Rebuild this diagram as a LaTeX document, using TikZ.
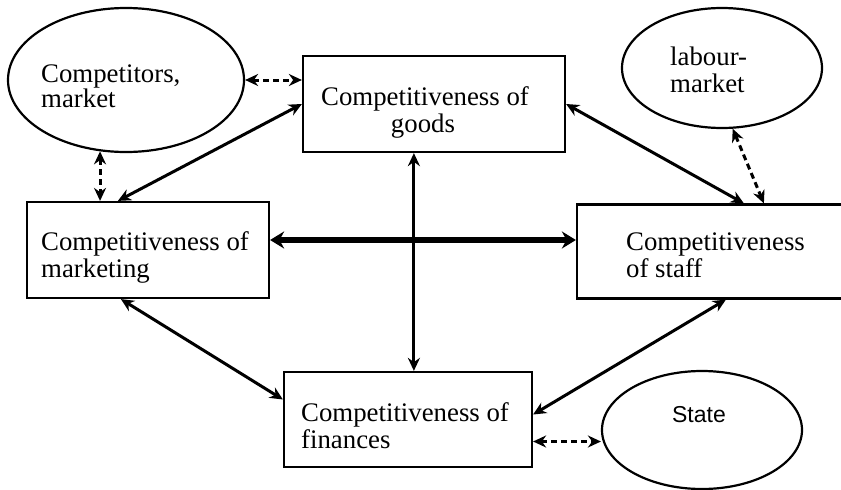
\documentclass[tikz,border=0pt]{standalone}
\usepackage{fontspec}
\setmainfont{Liberation Serif}
\newfontfamily\statefont{Liberation Sans}
\usetikzlibrary{arrows.meta,shapes.geometric,calc}
\begin{document}
\begin{tikzpicture}[x=1pt,y=-1pt,
  box/.style={draw, line width=2.2pt, rectangle, inner sep=0pt},
  oval/.style={draw, line width=2.2pt, ellipse, inner sep=0pt},
  txt/.style={inner sep=0pt, font=\fontsize{26.8}{27}\selectfont},
  link/.style={line width=3pt, {Stealth[length=13pt,width=12pt]}-{Stealth[length=13pt,width=12pt]}},
  dlink/.style={link, dash pattern=on 6pt off 4pt},
  heavylink/.style={line width=6pt, {Stealth[length=14pt,width=17pt]}-{Stealth[length=14pt,width=17pt]}}]
\useasboundingbox (0,0) rectangle (841,490);
\fill[white] (0,0) rectangle (841,490);
\clip (0,0) rectangle (841,490);

% shapes
\node[oval, minimum width=236pt, minimum height=144pt] (comp) at (126,80) {};
\node[box, minimum width=262pt, minimum height=96pt] (goods) at (434,104) {};
\node[oval, minimum width=200pt, minimum height=120pt] (labour) at (722,68) {};
\node[box, minimum width=242pt, minimum height=96pt] (mark) at (148,250) {};
\node[box, minimum width=283pt, minimum height=94pt] (staff) at (718.5,251.5) {};
\node[box, minimum width=248pt, minimum height=95pt] (fin) at (408,419.5) {};
\node[oval, minimum width=200pt, minimum height=118pt] (state) at (702,430) {};

% texts
\node[txt, anchor=base west] (compT1) at (41,82) {Competitors,};
\node[txt, anchor=base west] (compT2) at (41,107) {market};
\node[txt, anchor=base] (goodsT1) at (425,105) {Competitiveness of};
\node[txt, anchor=base] (goodsT2) at (423,132) {goods};
\node[txt, anchor=base west] (labourT1) at (670,65) {labour-};
\node[txt, anchor=base west] (labourT2) at (670,92) {market};
\node[txt, anchor=base west] (markT1) at (41,250) {Competitiveness of};
\node[txt, anchor=base west] (markT2) at (41,277) {marketing};
\node[txt, anchor=base west] (staffT1) at (626,250) {Competitiveness};
\node[txt, anchor=base west] (staffT2) at (626,277) {of staff};
\node[txt, anchor=base west] (finT1) at (301,421) {Competitiveness of};
\node[txt, anchor=base west] (finT2) at (301,448) {finances};
\node[inner sep=0pt, anchor=base, font=\statefont\fontsize{23}{25}\selectfont] (stateT) at (699,422) {State};

% connectors
\draw[dlink] (comp.east) -- (comp.east -| goods.west);
\draw[dlink] (comp.250) -- (comp.250 |- mark.north);
\draw[link] ($(mark.north west)+(92,0)$) -- (goods.west);
\draw[link] (goods.east) -- ($(staff.north west)+(168,0)$);
\draw[dlink] (labour.280) -- ($(staff.north west)+(188,0)$);
\draw[heavylink] ([yshift=10pt]mark.east) -- ([yshift=10pt]mark.east -| staff.west);
\coordinate (gf) at ($(goods.south west)+(112,0)$);
\draw[link] (gf) -- (gf |- fin.north);
\draw[link] ($(mark.south west)+(95,0)$) -- ([yshift=20pt]fin.west);
\draw[link] ([yshift=5pt]fin.east) -- ($(staff.south west)+(150,0)$);
\draw[dlink] ([yshift=-22pt]fin.east) -- ([yshift=-22pt]fin.east -| state.west);
\end{tikzpicture}
\end{document}
